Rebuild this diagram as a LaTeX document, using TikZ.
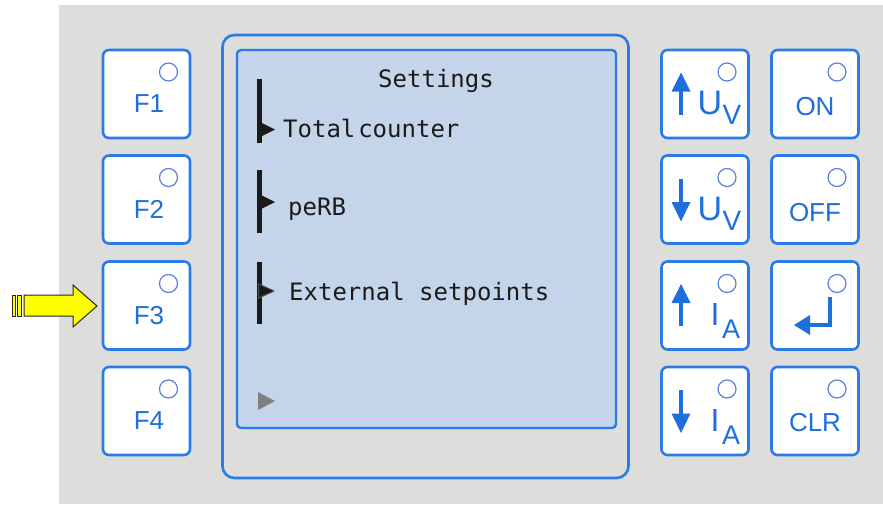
\documentclass[tikz,border=0pt]{standalone}
\usepackage{fontspec}
\setmainfont{Liberation Sans}
\newfontfamily\lcdfont{DejaVu Sans Mono}
\usetikzlibrary{calc}
\definecolor{panelgray}{HTML}{DDDDDB}
\definecolor{keyblue}{HTML}{2A7AE8}
\definecolor{txtblue}{HTML}{1E6EDE}
\definecolor{ledblue}{HTML}{5A82D6}
\definecolor{screenblue}{HTML}{C4D5EB}
\definecolor{lcdink}{HTML}{1C1A18}
\definecolor{arrowyellow}{HTML}{FFFF00}

\begin{document}
\begin{tikzpicture}[x=1pt,y=-1pt,
  key/.style={draw=keyblue, line width=2.6pt, fill=white, rounded corners=6pt,
              minimum width=87pt, minimum height=88pt, inner sep=0pt},
  led/.style={draw=ledblue, line width=1.2pt, circle, minimum size=18pt, inner sep=0pt},
  keytext/.style={text=txtblue, inner sep=0pt, font=\fontsize{26}{26}\selectfont},
  bigsym/.style={text=txtblue, inner sep=0pt, font=\fontsize{#1}{#1}\selectfont},
  lcd/.style={text=lcdink, inner sep=0pt, anchor=base west, font=\lcdfont\fontsize{24}{24}\selectfont},
  glyph/.style={fill=txtblue}]

% page and panel background
\useasboundingbox (0,0) rectangle (883,504);
\fill[white] (0,0) rectangle (883,504);
\fill[panelgray] (59,5) rectangle (883,504);

% yellow pointer arrow with striped tail
\filldraw[fill=arrowyellow, draw=black!85, line width=1pt]
  (24,295) -- (73,295) -- (73,285) -- (97,306) -- (73,327) -- (73,316) -- (24,316) -- cycle;
\filldraw[fill=arrowyellow, draw=black!85, line width=1pt] (12,295) rectangle (15,316);
\filldraw[fill=arrowyellow, draw=black!85, line width=1pt] (17.5,295) rectangle (21.5,316);

% function keys (left column)
\node[key] (f1) at (146.5,94) {};
\node[key] (f2) at (146.5,199.5) {};
\node[key] (f3) at (146.5,305.5) {};
\node[key] (f4) at (146.5,411) {};
\foreach \k/\t in {f1/F1, f2/F2, f3/F3, f4/F4}{
  \node[led] (\k led) at ($(\k.center)+(22,-22)$) {};
  \node[keytext] (\k txt) at ($(\k.center)+(2.5,10)$) {\t};
}

% right key block
\node[key] (uvup) at (705,94) {};
\node[key] (uvdn) at (705,199.5) {};
\node[key] (iaup) at (705,305.5) {};
\node[key] (iadn) at (705,411) {};
\node[key] (on) at (815,94) {};
\node[key] (off) at (815,199.5) {};
\node[key] (enter) at (815,305.5) {};
\node[key] (clr) at (815,411) {};
\foreach \k in {uvup, uvdn, iaup, iadn, on, off, enter, clr}{
  \node[led] (\k led) at ($(\k.center)+(22,-22)$) {};
}
\node[keytext] (ontxt) at ($(on.center)+(0,13)$) {ON};
\node[keytext] (offtxt) at ($(off.center)+(0,13)$) {OFF};
\node[keytext] (clrtxt) at ($(clr.center)+(0,12)$) {CLR};

% U_V and I_A labels
\foreach \k in {uvup, uvdn}{
  \node[bigsym=34] (\k U) at ($(\k.center)+(5,9)$) {U};
  \node[bigsym=28] (\k V) at ($(\k.center)+(27,21)$) {V};
}
\foreach \k in {iaup, iadn}{
  \node[bigsym=32] (\k I) at ($(\k.center)+(10,9)$) {I};
  \node[bigsym=27] (\k A) at ($(\k.center)+(26,24)$) {A};
}

% up / down arrow glyphs
\foreach \k in {uvup, iaup}{
  \begin{scope}[shift={(\k.center)}]
    \fill[glyph] (-26,20.5) rectangle (-22,-3);
    \fill[glyph] (-33.5,-2.5) -- (-14.5,-2.5) -- (-24,-21.5) -- cycle;
  \end{scope}
}
\foreach \k in {uvdn, iadn}{
  \begin{scope}[shift={(\k.center)}]
    \fill[glyph] (-26,-21) rectangle (-22,3);
    \fill[glyph] (-33.5,2.5) -- (-14.5,2.5) -- (-24,22) -- cycle;
  \end{scope}
}

% enter glyph
\begin{scope}[shift={(enter.center)}]
  \draw[txtblue, line width=4pt, line join=miter] (15,-8.5) -- (15,19.5) -- (-6,19.5);
  \fill[glyph] (-5,9.5) -- (-5,29.5) -- (-21,19.5) -- cycle;
\end{scope}

% display frame and screen
\draw[keyblue, line width=2.6pt, rounded corners=12pt] (222.5,35) rectangle (628.5,478);
\filldraw[fill=screenblue, draw=keyblue, line width=2.4pt, rounded corners=4pt] (237,50) rectangle (616,428);

% menu lines
\node[lcd, anchor=base] (title) at (436,87) {Settings};
\node[lcd] (item1) at (283,137) {Total\hspace{0.12em}counter};
\node[lcd] (item2) at (288,215) {peRB};
\node[lcd] (item3) at (289,300) {External setpoints};

% scroll bars and cursor marks
\fill[lcdink] (257,79) rectangle (262,143);
\fill[lcdink] (262,123) -- (275,129.5) -- (262,136) -- cycle;
\fill[lcdink] (257,170) rectangle (262,233);
\fill[lcdink] (262,195.5) -- (275,202) -- (262,208.5) -- cycle;
\fill[lcdink] (257,262) rectangle (262,324);
\fill[black!70] (258,283) -- (275,291) -- (258,299) -- cycle;
\fill[lcdink] (259,285) -- (273,291) -- (259,297) -- cycle;
\fill[black!50] (258,392) -- (275,401) -- (258,410) -- cycle;
\end{tikzpicture}
\end{document}
